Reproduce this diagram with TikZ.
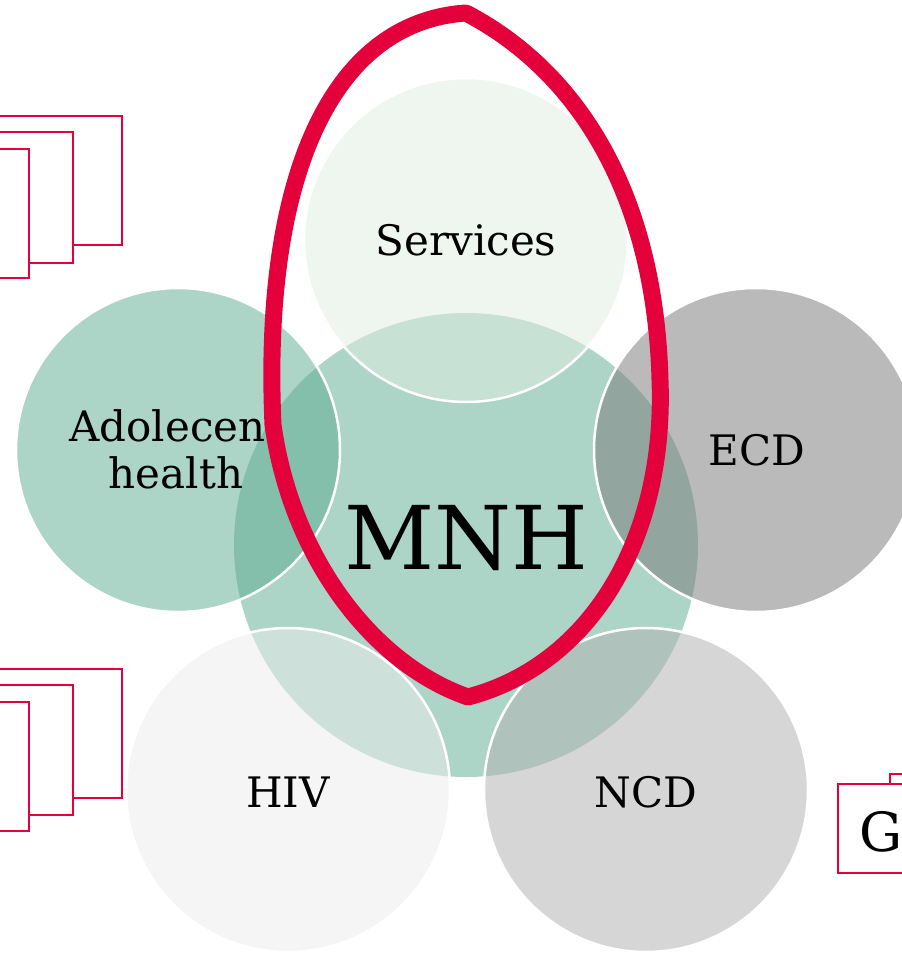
\documentclass[tikz,border=0pt]{standalone}
\usepackage{fontspec}
\setmainfont{DejaVu Serif}
\definecolor{mnhfill}{RGB}{172,212,199}
\definecolor{svcfill}{RGB}{225,238,227}
\definecolor{adofill}{RGB}{98,174,149}
\definecolor{ecdfill}{RGB}{125,125,125}
\definecolor{hivfill}{RGB}{236,236,236}
\definecolor{ncdfill}{RGB}{178,178,178}
\definecolor{hired}{RGB}{228,0,59}
\tikzset{
  bubble/.style={circle, inner sep=0pt, minimum size=324pt, fill opacity=0.53, draw=white, line width=2.5pt},
  lbl/.style={text=black, font=\fontsize{42}{47}\selectfont, align=center, inner sep=0pt},
  pagebox/.style={draw=hired, line width=2pt, fill=white},
  loop/.style={draw=hired, line width=17pt, line join=round}
}
\begin{document}
\begin{tikzpicture}[x=1pt,y=-1pt]
\useasboundingbox (0,0) rectangle (902,953);
\clip (0,0) rectangle (902,953);
% page boxes
\draw[pagebox] (-5,116) rectangle (122,245);
\draw[pagebox] (-5,132) rectangle (73,263);
\draw[pagebox] (-5,149) rectangle (29,278);
\draw[pagebox] (-5,669) rectangle (122,798);
\draw[pagebox] (-5,685) rectangle (73,815);
\draw[pagebox] (-5,702) rectangle (29,831);
\draw[pagebox] (890,774) rectangle (910,860);
\draw[pagebox] (838,784) rectangle (910,873);
\node[anchor=base west, inner sep=0pt, font=\fontsize{54}{54}\selectfont] (g) at (859,851) {G};
% circles
\node[circle, inner sep=0pt, minimum size=464pt, fill=mnhfill] (mnh) at (466,545) {};
\node[bubble, fill=svcfill] (svc) at (466,240) {};
\node[bubble, fill=adofill] (ado) at (178,450) {};
\node[bubble, fill=ecdfill] (ecd) at (756,450) {};
\node[bubble, fill=hivfill] (hiv) at (288,790) {};
\node[bubble, fill=ncdfill] (ncd) at (646,790) {};
% labels
\node[lbl] (svcl) at (466,240) {Services};
\node[lbl] (adol) at (176,449) {Adolecent\\health};
\node[lbl] (ecdl) at (757,450) {ECD};
\node[lbl] (hivl) at (288,792) {HIV};
\node[lbl] (ncdl) at (646,792) {NCD};
\node[lbl, font=\fontsize{88}{88}\selectfont] (mnhl) at (466,538) {MNH};
% red loop
\coordinate (lt) at (466,13);
\coordinate (lr) at (660,380);
\coordinate (lb) at (468,697);
\coordinate (ll) at (273,425);
\draw[loop] (lt) .. controls (575,70) and (655,190) .. (lr)
  .. controls (666,540) and (590,665) .. (lb)
  .. controls (375,665) and (292,560) .. (ll)
  .. controls (262,180) and (330,22) .. (lt) -- cycle;
\end{tikzpicture}
\end{document}
